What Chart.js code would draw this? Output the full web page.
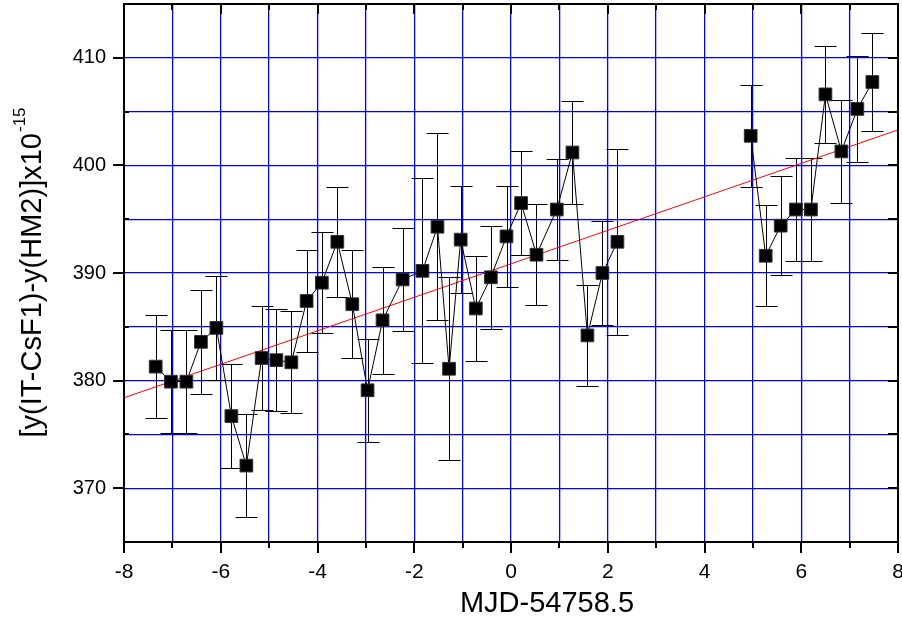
<!DOCTYPE html>
<html>
<head>
<meta charset="utf-8">
<script src="https://cdn.jsdelivr.net/npm/chart.js@4/dist/chart.umd.min.js"></script>
<style>
  html, body { margin: 0; padding: 0; background: #fff; }
  #wrap { width: 902px; height: 621px; position: relative; }
</style>
</head>
<body>
<div id="wrap"><canvas id="c" width="902" height="621"></canvas></div>
<script>
// ---- data ----
const xVals = [-7.345, -7.03, -6.71, -6.41, -6.09, -5.78, -5.47, -5.155, -4.85, -4.54,
               -4.225, -3.91, -3.59, -3.28, -2.965, -2.655, -2.24, -1.83, -1.52, -1.28,
               -1.04, -0.727, -0.417, -0.093, 0.209, 0.527, 0.946, 1.27, 1.58, 1.89,
               2.2, 4.955, 5.265, 5.575, 5.89, 6.2, 6.5, 6.83, 7.16, 7.47];
const yVals = [381.3, 379.9, 379.9, 383.6, 384.9, 376.7, 372.1, 382.1, 381.9, 381.7,
               387.4, 389.1, 392.9, 387.1, 379.1, 385.6, 389.4, 390.2, 394.3, 381.1,
               393.1, 386.7, 389.6, 393.4, 396.5, 391.7, 395.9, 401.2, 384.2, 390.0,
               392.9, 402.75, 391.6, 394.4, 395.9, 395.9, 406.6, 401.3, 405.25, 407.75];
const errVals = [4.8, 4.8, 4.8, 4.8, 4.8, 4.8, 4.8, 4.8, 4.75, 4.75,
                 4.7, 4.7, 5.1, 5.0, 4.8, 5.0, 4.8, 8.6, 8.7, 8.5,
                 5.0, 4.9, 4.8, 4.7, 4.8, 4.7, 4.65, 4.75, 4.7, 4.8,
                 8.65, 4.75, 4.7, 4.6, 4.75, 4.75, 4.5, 4.75, 4.9, 4.55];
const fitX = [-8, 8];
const fitY = [378.4, 403.3];
const xTicks = [-8, -6, -4, -2, 0, 2, 4, 6, 8];
const yTicks = [370, 380, 390, 400, 410];
const xTitle = 'MJD-54758.5';
const yTitleMain = '[y(IT-CsF1)-y(HM2)]x10';
const yTitleSup = '-15';

const points = xVals.map((x, i) => ({ x: x, y: yVals[i] }));
const fitPoints = fitX.map((x, i) => ({ x: x, y: fitY[i] }));

const FONT = '"Liberation Sans", Arial, sans-serif';

const errorBars = {
  id: 'errorBars',
  beforeDatasetsDraw(chart) {
    const { ctx, scales: { x, y } } = chart;
    ctx.save();
    ctx.strokeStyle = '#000';
    ctx.lineWidth = 1;
    const cap = 11;
    xVals.forEach((xv, i) => {
      const px = Math.round(x.getPixelForValue(xv)) + 0.5;
      const pTop = Math.round(y.getPixelForValue(yVals[i] + errVals[i])) + 0.5;
      const pBot = Math.round(y.getPixelForValue(yVals[i] - errVals[i])) + 0.5;
      ctx.beginPath();
      ctx.moveTo(px, pTop); ctx.lineTo(px, pBot);
      ctx.moveTo(px - cap, pTop); ctx.lineTo(px + cap, pTop);
      ctx.moveTo(px - cap, pBot); ctx.lineTo(px + cap, pBot);
      ctx.stroke();
    });
    ctx.restore();
  }
};

const frame = {
  id: 'frame',
  afterDraw(chart) {
    const { ctx, chartArea: a, scales: { x, y } } = chart;
    ctx.save();
    ctx.strokeStyle = '#000';
    ctx.lineWidth = 2;
    ctx.beginPath();
    ctx.rect(a.left, a.top, a.right - a.left, a.bottom - a.top);
    ctx.stroke();
    ctx.beginPath();
    for (let v = x.min; v <= x.max; v += 1) {
      const px = Math.round(x.getPixelForValue(v));
      const major = xTicks.includes(v);
      ctx.moveTo(px, a.bottom); ctx.lineTo(px, a.bottom + (major ? 11 : 6));
      ctx.moveTo(px, a.top); ctx.lineTo(px, a.top + (major ? 10 : 6));
    }
    for (let v = 370; v <= 410; v += 5) {
      const py = Math.round(y.getPixelForValue(v));
      const major = yTicks.includes(v);
      if (major) { ctx.moveTo(a.left, py); ctx.lineTo(a.left - 11, py); }
      else { ctx.moveTo(a.left, py); ctx.lineTo(a.left + 5, py); }
      ctx.moveTo(a.right, py); ctx.lineTo(a.right - 10, py);
    }
    ctx.stroke();

    // tick labels
    ctx.fillStyle = '#000';
    ctx.font = '21px ' + FONT;
    ctx.textAlign = 'center';
    ctx.textBaseline = 'middle';
    xTicks.forEach(v => ctx.fillText(String(v), x.getPixelForValue(v), a.bottom + 30));
    ctx.font = '20px ' + FONT;
    ctx.textAlign = 'right';
    yTicks.forEach(v => ctx.fillText(String(v), a.left - 18, y.getPixelForValue(v)));

    // axis titles
    ctx.font = '29px ' + FONT;
    ctx.textAlign = 'center';
    ctx.fillText(xTitle, 547, 604);

    const mainFont = '29px ' + FONT;
    const supFont = '17px ' + FONT;
    ctx.font = mainFont;
    const w1 = ctx.measureText(yTitleMain).width;
    ctx.font = supFont;
    const w2 = ctx.measureText(yTitleSup).width;
    ctx.translate(33, (a.top + a.bottom) / 2);
    ctx.rotate(-Math.PI / 2);
    ctx.textAlign = 'left';
    const start = -(w1 + w2) / 2;
    ctx.font = mainFont;
    ctx.fillText(yTitleMain, start, 0);
    ctx.font = supFont;
    ctx.fillText(yTitleSup, start + w1 + 1, -13);
    ctx.restore();
  }
};

new Chart(document.getElementById('c'), {
  type: 'scatter',
  data: {
    datasets: [
      {
        label: 'data',
        data: points,
        order: 0,
        showLine: true,
        borderColor: '#000',
        borderWidth: 1,
        backgroundColor: '#000',
        pointStyle: 'rect',
        pointRadius: 9,
        pointBorderColor: '#333',
        pointBorderWidth: 1,
        pointBackgroundColor: '#000',
        segment: {
          borderColor: ctx => (ctx.p1.parsed.x - ctx.p0.parsed.x > 2 ? 'rgba(0,0,0,0)' : '#000')
        }
      },
      {
        label: 'fit',
        data: fitPoints,
        order: 1,
        showLine: true,
        borderColor: '#ff0000',
        borderWidth: 1,
        pointRadius: 0
      }
    ]
  },
  options: {
    responsive: false,
    animation: false,
    devicePixelRatio: 1,
    layout: { autoPadding: false, padding: { left: 0, top: 4, right: 4, bottom: 0 } },
    plugins: { legend: { display: false }, tooltip: { enabled: false } },
    scales: {
      x: {
        type: 'linear',
        min: -8, max: 8,
        afterFit(s) { s.height = 79; },
        border: { display: false },
        grid: { drawTicks: false, lineWidth: 1.3, color: '#0000ff' },
        ticks: { display: false, stepSize: 1, autoSkip: false }
      },
      y: {
        type: 'linear',
        min: 365, max: 415,
        afterFit(s) { s.width = 124; },
        border: { display: false },
        grid: { drawTicks: false, lineWidth: 1.3, color: '#0000ff' },
        ticks: { display: false, stepSize: 5, autoSkip: false }
      }
    }
  },
  plugins: [errorBars, frame]
});
</script>
</body>
</html>
